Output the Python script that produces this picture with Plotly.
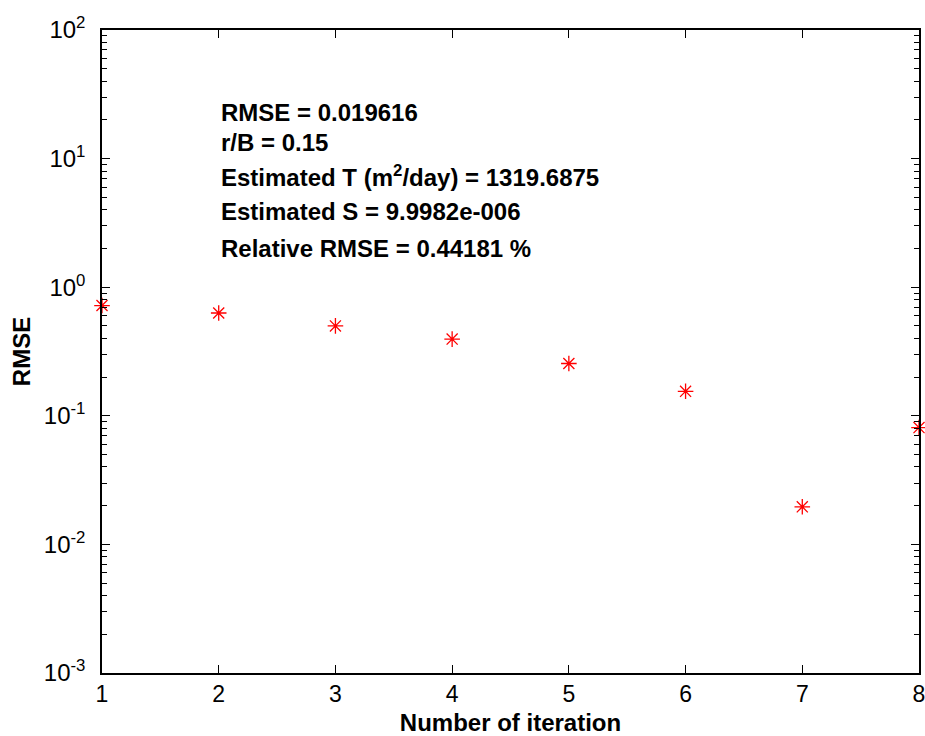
import plotly.graph_objects as go

iterations = [1, 2, 3, 4, 5, 6, 7, 8]
rmse = [0.72, 0.63, 0.50, 0.395, 0.255, 0.155, 0.0196, 0.081]

ytick_vals = [1e-3, 1e-2, 1e-1, 1e0, 1e1, 1e2]
ytick_text = ["10<sup>-3</sup>", "10<sup>-2</sup>", "10<sup>-1</sup>", "10<sup>0</sup>", "10<sup>1</sup>", "10<sup>2</sup>"]
minor_vals = [m * 10.0 ** e for e in range(-3, 2) for m in range(2, 10)]

info_lines = [
    "RMSE = 0.019616",
    "r/B = 0.15",
    "Estimated T (m<sup>2</sup>/day) = 1319.6875",
    "Estimated S = 9.9982e-006",
    "Relative RMSE = 0.44181 %",
]
info_y = [113, 142, 176, 211, 248]

fig = go.Figure()
fig.add_trace(go.Scatter(
    x=iterations, y=rmse, mode="markers",
    marker=dict(symbol="asterisk-open", size=13, color="red", line=dict(color="red", width=1.3)),
    cliponaxis=False, showlegend=False,
))

font = "Liberation Sans, Arial, sans-serif"
plot_top, plot_bot = 30, 673
for txt, yp in zip(info_lines, info_y):
    fig.add_annotation(
        x=2, xref="x", xanchor="left",
        y=1 - (yp - plot_top) / (plot_bot - plot_top), yref="paper", yanchor="middle",
        text="<b>" + txt + "</b>", showarrow=False,
        font=dict(family=font, size=24, color="black"),
    )

fig.update_layout(
    width=925, height=736,
    margin=dict(l=102, r=6, t=30, b=63),
    plot_bgcolor="white", paper_bgcolor="white",
    font=dict(family=font, color="black"),
)
fig.update_xaxes(
    range=[1, 8], tickvals=iterations, ticktext=[str(i) for i in iterations],
    ticks="inside", ticklen=8, tickwidth=1, tickcolor="black",
    showline=True, linecolor="black", linewidth=1.5, mirror="ticks",
    showgrid=False, zeroline=False, automargin=False, ticklabeloverflow="allow",
    tickfont=dict(size=23, family=font),
    title=dict(text="<b>Number of iteration</b>", font=dict(size=24, family=font), standoff=8),
)
fig.update_yaxes(
    type="log", range=[-3, 2], tickvals=ytick_vals, ticktext=ytick_text,
    ticks="inside", ticklen=8, tickwidth=1, tickcolor="black",
    minor=dict(tickvals=minor_vals, ticks="inside", ticklen=5, tickcolor="black", tickwidth=1),
    showline=True, linecolor="black", linewidth=1.5, mirror="ticks",
    showgrid=False, zeroline=False, automargin=False,
    tickfont=dict(size=24, family=font), ticklabelstandoff=10,
    title=dict(text="<b>RMSE</b>", font=dict(size=24, family=font), standoff=6),
)

fig.write_html("out.html")
